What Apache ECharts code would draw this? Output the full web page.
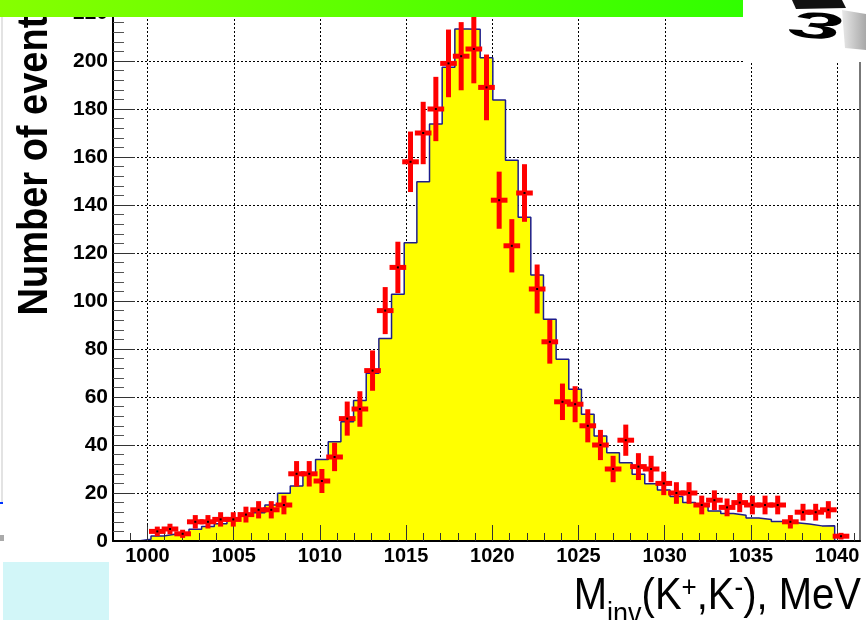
<!DOCTYPE html>
<html><head><meta charset="utf-8">
<script src="https://cdn.jsdelivr.net/npm/echarts@6/dist/echarts.min.js"></script>
<style>html,body{margin:0;padding:0;background:#fff}#c{width:866px;height:620px}</style>
</head><body><div id="c"></div>
<script>
// ---- data ----
const BIN_LO = 998, BIN_W = 0.7344, N_BINS = 59;   // histogram binning (MeV)
const X_MIN = 998, X_MAX = 1041.33, Y_MAX = 225;
// Monte-Carlo histogram (yellow), one value per bin
const mcCounts = [0,0,0.7,2.1,2.9,3.5,4.9,6,7.2,8.8,
  10.4,11.8,15,19.9,22.9,28.2,34,41.4,49.7,58.5,
  69.9,84.4,102.8,124.3,149.7,173.8,197.4,213.3,213.2,201.4,
  183.8,158.6,134.9,110.8,92.4,75.7,63.2,52.8,43.8,36.8,
  32.6,27.8,23.9,21.3,18.5,16,14.6,12.5,11.5,10.7,
  9.6,9,8.1,7.6,7.1,6.3,6.4,0,0];
// measured data (red crosses), starting at bin 3
const dataFirstBin = 3;
const dataCounts = [4,5,3,8,8,9,9,11,13,13,
  15,28,28,25,35,51,55,71,96,114,
  158,170,180,199,202,205,189,142,123,145,
  105,83,58,57,48,40,30,42,31,30,
  24,20,20,15,17,14,16,15,15,15,
  8,12,12,13,2];
const dataErrors = [2,2.2,1.7,2.8,2.8,3,3,3.3,3.6,3.6,
  3.9,5.3,5.3,5,5.9,7.1,7.4,8.4,9.8,10.7,
  12.6,13,13.4,14.1,14.2,14.3,13.7,11.9,11.1,12,
  10.2,9.1,7.6,7.5,6.9,6.3,5.5,6.5,5.6,5.5,
  4.9,4.5,4.5,3.9,4.1,3.7,4,3.9,3.9,3.9,
  2.8,3.5,3.5,3.6,1.4];
const xMajorTicks = [1000,1005,1010,1015,1020,1025,1030,1035,1040];
const xMinorTicks = [];
for (let v = 999; v <= 1041; v++) if (xMajorTicks.indexOf(v) < 0) xMinorTicks.push(v);
const yTitle = 'Number of events';

// ---- build series data ----
const edge = i => BIN_LO + BIN_W * i;
const mcLine = mcCounts.map((v, i) => [edge(i), v]);
mcLine.push([edge(N_BINS), 0]);
const crosses = dataCounts.map((v, k) => {
  const i = dataFirstBin + k;
  return [edge(i) + BIN_W / 2, v, dataErrors[k]];
});

const FONT = 'Liberation Sans';
const chart = echarts.init(document.getElementById('c'), null, {renderer: 'canvas'});
const option = {
  animation: false,
  backgroundColor: '#fff',
  grid: {left: 113, right: 6, top: 1, bottom: 79, containLabel: false},
  xAxis: [{
    type: 'value', min: X_MIN, max: X_MAX, z: 5,
    axisLine: {show: true, onZero: false, lineStyle: {color: '#000', width: 2}},
    axisTick: {show: true, inside: true, length: 16, customValues: xMajorTicks, lineStyle: {color: '#333', width: 1}},
    axisLabel: {customValues: xMajorTicks, formatter: v => String(v), color: '#000', fontFamily: FONT, fontWeight: 'bold', fontSize: 20, margin: 5},
    splitLine: {show: false}
  }, {
    type: 'value', min: X_MIN, max: X_MAX, position: 'bottom', z: 5,
    axisLine: {show: false, onZero: false},
    axisTick: {show: true, inside: true, length: 8, customValues: xMinorTicks, lineStyle: {color: '#333', width: 1}},
    axisLabel: {show: false}, splitLine: {show: false}
  }],
  yAxis: [{
    type: 'value', min: 0, max: Y_MAX, interval: 20,
    axisLine: {show: true, onZero: false, lineStyle: {color: '#000', width: 2}},
    axisTick: {show: true, inside: true, length: 22, lineStyle: {color: '#333', width: 1}},
    minorTick: {show: true, splitNumber: 5, length: 11, lineStyle: {color: '#555', width: 1}},
    axisLabel: {color: '#000', fontFamily: FONT, fontWeight: 'bold', fontSize: 21, margin: 5, showMaxLabel: false},
    splitLine: {show: true, lineStyle: {color: '#000', width: 1, type: [2, 2]}}
  }, {
    type: 'value', min: 0, max: Y_MAX, position: 'right',
    axisLine: {show: true, onZero: false, lineStyle: {color: '#777', width: 2}},
    axisTick: {show: false}, axisLabel: {show: false}, splitLine: {show: false}
  }],
  series: [{
    type: 'custom', z: 1, silent: true,
    data: xMajorTicks.map(v => [v, 0]),
    renderItem: (params, api) => {
      const v = api.value(0);
      const p0 = api.coord([v, 0]), p1 = api.coord([v, Y_MAX]);
      const x = Math.round(p0[0]) + 0.5;
      return {type: 'line', shape: {x1: x, y1: p0[1], x2: x, y2: p1[1]},
        style: {stroke: '#000', lineWidth: 1, lineDash: [2, 2]}};
    }
  }, {
    type: 'line', z: 2, step: 'end', symbol: 'none', silent: true,
    data: mcLine,
    lineStyle: {color: '#1c1c8c', width: 1.5},
    areaStyle: {color: '#ffff00', opacity: 1}
  }, {
    type: 'custom', z: 6, silent: true,
    data: crosses,
    renderItem: (params, api) => {
      const x = api.value(0), y = api.value(1), e = api.value(2);
      const c = api.coord([x, y]);
      const t = api.coord([x, y + e]), b = api.coord([x, Math.max(0, y - e)]);
      const l = api.coord([x - BIN_W / 2, y]), r = api.coord([x + BIN_W / 2, y]);
      return {type: 'group', children: [
        {type: 'line', shape: {x1: c[0], y1: t[1], x2: c[0], y2: b[1]}, style: {stroke: '#ff0000', lineWidth: 5}},
        {type: 'line', shape: {x1: l[0] - 2, y1: c[1], x2: r[0] + 2, y2: c[1]}, style: {stroke: '#ff0000', lineWidth: 5}},
        {type: 'rect', shape: {x: c[0] - 1, y: c[1] - 1, width: 2, height: 2}, style: {fill: '#000'}}
      ]};
    }
  }],
  graphic: {elements: [
    {type: 'text', z: 50, x: 35, y: 155, rotation: Math.PI / 2, scaleY: 1.1,
      style: {text: yTitle, font: 'bold 38px "Liberation Sans"', fill: '#000', align: 'center', verticalAlign: 'middle'}},
    {type: 'text', z: 50, x: 861, y: 630, scaleY: 1.12,
      style: {text: '{m|M}{sub|inv}{m|(K}{sup|+}{m|,K}{sup|-}{m|), MeV}', align: 'right', verticalAlign: 'bottom',
        rich: {
          m: {fontSize: 40, fontFamily: FONT, lineHeight: 50, verticalAlign: 'top', fill: '#000'},
          sub: {fontSize: 27, fontFamily: FONT, lineHeight: 12, verticalAlign: 'bottom', fill: '#000'},
          sup: {fontSize: 26, fontFamily: FONT, lineHeight: 14, verticalAlign: 'top', fill: '#000'}
        }}},
    {type: 'rect', z: 60, shape: {x: 0, y: 0, width: 743, height: 17},
      style: {fill: new echarts.graphic.LinearGradient(0, 0, 1, 0, [{offset: 0, color: '#86ff00'}, {offset: 1, color: '#30ff00'}])}},
    {type: 'rect', z: 60, shape: {x: 743, y: 0, width: 123, height: 62}, style: {fill: '#fff'}},
    {type: 'polygon', z: 61, shape: {points: [[792, 0], [842, 0], [846, 8], [796, 9]]}, style: {fill: '#111'}},
    {type: 'polygon', z: 61, shape: {points: [[842, 10], [866, 14], [866, 50], [845, 48]]},
      style: {fill: new echarts.graphic.LinearGradient(0, 0, 1, 0, [{offset: 0, color: '#e8e8e8'}, {offset: 1, color: '#a8a8a8'}])}},
    {type: 'text', z: 62, x: 815, y: 28, scaleX: 1.6, scaleY: 0.62, rotation: -0.1,
      style: {text: '3', font: 'bold italic 60px "Liberation Sans"', fill: '#000', align: 'center', verticalAlign: 'middle'}},
    {type: 'rect', z: 60, shape: {x: 1.5, y: 17, width: 1, height: 486}, style: {fill: '#c8c8c8'}},
    {type: 'rect', z: 60, shape: {x: 0, y: 502, width: 3, height: 2}, style: {fill: '#0033ff'}},
    {type: 'rect', z: 60, shape: {x: 0, y: 535, width: 4, height: 6}, style: {fill: '#aaa'}},
    {type: 'rect', z: 60, shape: {x: 3, y: 562, width: 106, height: 58}, style: {fill: '#d2f6f8'}}
  ]}
};
chart.setOption(option);
</script></body></html>
